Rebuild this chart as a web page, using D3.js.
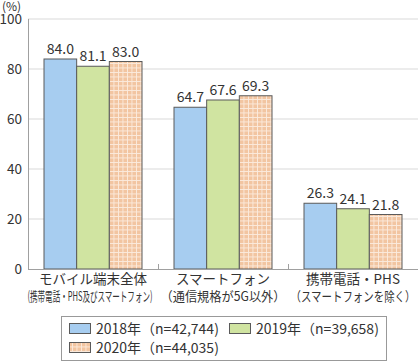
<!DOCTYPE html>
<html>
  <head>
    <meta charset="utf-8">
    <script src="https://d3js.org/d3.v7.min.js"></script>
    <style>
      body { margin: 0; background: #fff; }
      text { font-family: "Noto Sans CJK JP", "Noto Sans", sans-serif; fill: #333; }
    </style>
  </head>
  <body>
    <svg width="418" height="362"></svg>

    <script>
      const categories = ["モバイル端末全体", "スマートフォン", "携帯電話・PHS"];
      const subLabels = ["(携帯電話・PHS及びスマートフォン)", "（通信規格が5G以外）", "（スマートフォンを除く）"];
      const seriesNames = ["2018年（n=42,744)", "2019年（n=39,658)", "2020年（n=44,035)"];
      const values2018 = [84.0, 64.7, 26.3];
      const values2019 = [81.1, 67.6, 24.1];
      const values2020 = [83.0, 69.3, 21.8];
      const yTicks = [0, 20, 40, 60, 80, 100];

      const series = [values2018, values2019, values2020];
      const fills = ["#a7cdf0", "#d0e4a1", "url(#check)"];

      const svg = d3.select("svg");
      const plotL = 28, plotR = 418, plotT = 19, plotB = 269;

      // checkered pattern for 2020
      const defs = svg.append("defs");
      const pat = defs.append("pattern")
        .attr("id", "check")
        .attr("patternUnits", "userSpaceOnUse")
        .attr("width", 4.5).attr("height", 4.5);
      pat.append("rect").attr("width", 4.5).attr("height", 4.5).attr("fill", "#f2c5a1");
      pat.append("rect").attr("width", 0.9).attr("height", 4.5).attr("fill", "#fbeadc");
      pat.append("rect").attr("width", 4.5).attr("height", 0.9).attr("fill", "#fbeadc");

      const x = d3.scaleBand().domain(categories).range([plotL, plotR]);
      const xs = d3.scaleBand().domain(d3.range(3)).range([16, x.bandwidth() - 16]);
      const y = d3.scaleLinear().domain([0, 100]).range([plotB, plotT]);

      // gridlines
      svg.append("g").selectAll("line")
        .data(yTicks.filter(d => d > 0))
        .join("line")
        .attr("x1", plotL).attr("x2", plotR)
        .attr("y1", d => y(d)).attr("y2", d => y(d))
        .attr("stroke", "#d9d9d9").attr("stroke-width", 1);

      // y axis labels
      svg.append("g").selectAll("text")
        .data(yTicks)
        .join("text")
        .attr("x", 22).attr("y", d => y(d) + 5)
        .attr("text-anchor", "end")
        .attr("font-size", 13.5)
        .text(d => d);

      svg.append("text").attr("x", 2).attr("y", 11).attr("font-size", 12).text("(%)");

      // bars
      const groups = svg.append("g").selectAll("g")
        .data(categories)
        .join("g")
        .attr("transform", d => `translate(${x(d)},0)`);

      groups.selectAll("rect")
        .data((d, i) => series.map((s, k) => ({ k, v: s[i] })))
        .join("rect")
        .attr("x", d => xs(d.k))
        .attr("width", xs.bandwidth())
        .attr("y", d => y(d.v))
        .attr("height", d => y(0) - y(d.v))
        .attr("fill", d => fills[d.k])
        .attr("stroke", "#5a5a5a").attr("stroke-width", 1);

      groups.selectAll("text.val")
        .data((d, i) => series.map((s, k) => ({ k, v: s[i] })))
        .join("text")
        .attr("class", "val")
        .attr("x", d => xs(d.k) + xs.bandwidth() / 2)
        .attr("y", d => y(d.v) - 5)
        .attr("text-anchor", "middle")
        .attr("font-size", 14)
        .text(d => d.v.toFixed(1));

      // axes lines
      svg.append("line").attr("x1", plotL + 0.5).attr("x2", plotL + 0.5)
        .attr("y1", plotT).attr("y2", plotB).attr("stroke", "#a0a0a0");
      svg.append("line").attr("x1", plotL).attr("x2", plotR)
        .attr("y1", plotB + 0.5).attr("y2", plotB + 0.5).attr("stroke", "#a0a0a0");
      svg.append("g").selectAll("line")
        .data(categories.slice(1))
        .join("line")
        .attr("x1", d => x(d) + 0.5).attr("x2", d => x(d) + 0.5)
        .attr("y1", plotB - 5).attr("y2", plotB)
        .attr("stroke", "#a0a0a0");

      // category labels
      groups.append("text")
        .attr("x", x.bandwidth() / 2).attr("y", plotB + 15)
        .attr("text-anchor", "middle")
        .attr("font-size", 13.5)
        .text(d => d);
      groups.append("text")
        .attr("x", (d, i) => x.bandwidth() / 2 + (i === 0 ? -3 : 0)).attr("y", plotB + 32)
        .attr("text-anchor", "middle")
        .attr("font-size", 13)
        .attr("textLength", 125)
        .attr("lengthAdjust", "spacingAndGlyphs")
        .text((d, i) => subLabels[i]);

      // legend
      const lg = svg.append("g");
      lg.append("rect").attr("x", 61.5).attr("y", 316.5).attr("width", 325).attr("height", 44)
        .attr("fill", "#fff").attr("stroke", "#999");
      const legPos = [[69, 329], [229, 329], [69, 348]];
      seriesNames.forEach((name, k) => {
        const [lx, ly] = legPos[k];
        lg.append("rect").attr("x", lx + 0.5).attr("y", ly - 5.5).attr("width", 21).attr("height", 10)
          .attr("fill", fills[k]).attr("stroke", "#5a5a5a");
        lg.append("text").attr("x", lx + 27).attr("y", ly + 5)
          .attr("font-size", 14).text(name);
      });
    </script>
  </body>
</html>
